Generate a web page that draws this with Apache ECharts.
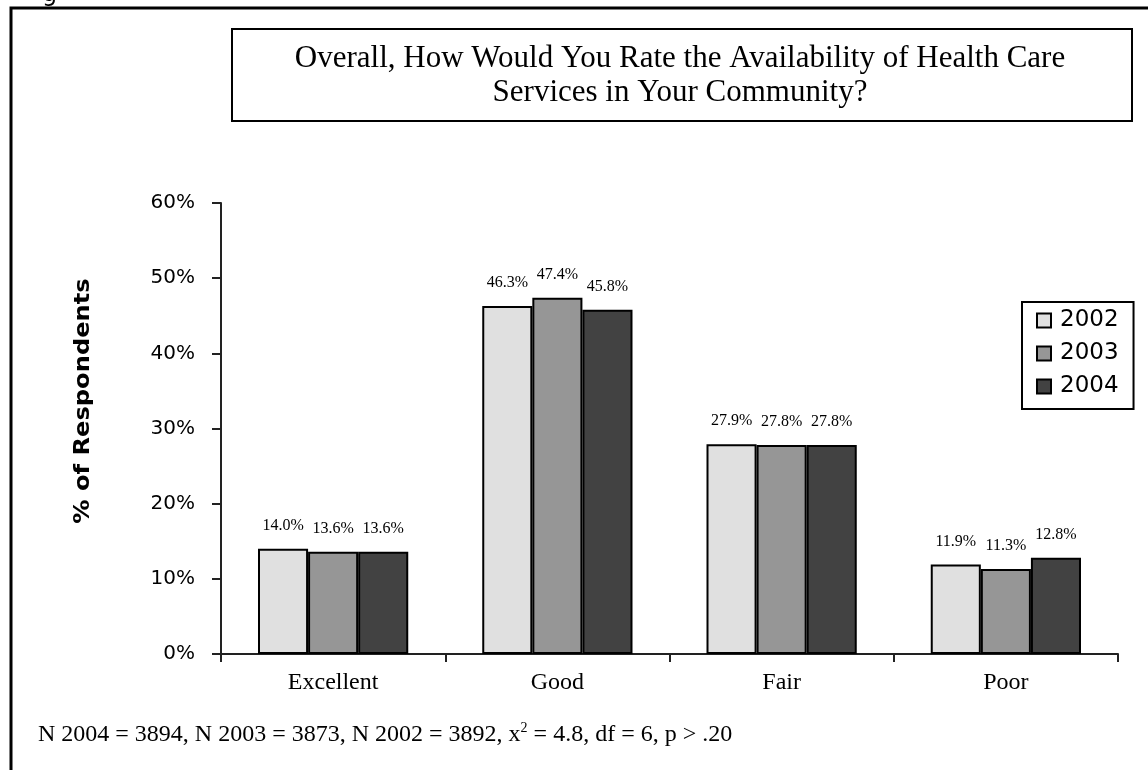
<!DOCTYPE html>
<html>
<head>
<meta charset="utf-8">
<script src="https://cdn.jsdelivr.net/npm/echarts@6/dist/echarts.min.js"></script>
<style>
html, body { margin: 0; padding: 0; background: #fff; }
#chart-container { width: 1148px; height: 770px; }
</style>
</head>
<body>
<div id="chart-container"></div>
<script>
var categories = ['Excellent', 'Good', 'Fair', 'Poor'];
var years = ['2002', '2003', '2004'];
var values2002 = [14.0, 46.3, 27.9, 11.9];
var values2003 = [13.6, 47.4, 27.8, 11.3];
var values2004 = [13.6, 45.8, 27.8, 12.8];
var yTicks = [0, 10, 20, 30, 40, 50, 60];

var colors = ['#e0e0e0', '#969696', '#424242'];
var serif = '"Liberation Serif", "Times New Roman", serif';
var sans = '"DejaVu Sans", Verdana, sans-serif';

var dom = document.getElementById('chart-container');
var myChart = echarts.init(dom, null, { renderer: 'canvas' });

// uma série por ano
function makeSeries(name, data, idx) {
    return {
        name: name,
        type: 'bar',
        data: data,
        barGap: '0%',
        barCategoryGap: '33%',
        itemStyle: {
            color: colors[idx],
            borderColor: '#000',
            borderWidth: 2
        },
        label: {
            show: true,
            position: 'top',
            distance: 15,
            color: '#000',
            fontFamily: serif,
            fontSize: 16,
            formatter: function (p) { return p.value.toFixed(1) + '%'; }
        }
    };
}

var option = {
    animation: false,
    backgroundColor: '#fff',
    grid: {
        left: 221,
        right: 30,
        top: 203,
        bottom: 116
    },
    legend: {
        data: years,
        orient: 'vertical',
        left: 1022,
        top: 302,
        padding: [7, 15, 11, 14],
        itemGap: 10,
        itemWidth: 14,
        itemHeight: 14,
        icon: 'rect',
        borderColor: '#000',
        borderWidth: 2,
        backgroundColor: '#fff',
        textStyle: { fontFamily: sans, fontSize: 23, color: '#000', padding: [0, 0, 0, 4] }
    },
    xAxis: {
        type: 'category',
        data: categories,
        axisLine: { lineStyle: { color: '#222', width: 2 } },
        axisTick: { show: true, length: 8, lineStyle: { color: '#222', width: 2 } },
        axisLabel: { fontFamily: serif, fontSize: 24, color: '#000', margin: 17 }
    },
    yAxis: {
        type: 'value',
        min: yTicks[0],
        max: yTicks[yTicks.length - 1],
        interval: 10,
        splitLine: { show: false },
        axisLine: { show: true, lineStyle: { color: '#222', width: 2 } },
        axisTick: { show: true, length: 9, lineStyle: { color: '#222', width: 2 } },
        axisLabel: {
            fontFamily: sans, fontSize: 20, color: '#000', margin: 26,
            formatter: function (v) { return v + '%'; }
        }
    },
    graphic: [
        {
            type: 'rect',
            shape: { x: 11, y: 8, width: 1160, height: 800 },
            style: { fill: 'none', stroke: '#000', lineWidth: 3 },
            silent: true
        },
        {
            type: 'text',
            left: 42, top: -17,
            style: { text: 'g', font: '24px ' + sans, fill: '#000' }
        },
        {
            type: 'rect',
            shape: { x: 232, y: 29, width: 900, height: 92 },
            style: { fill: '#fff', stroke: '#000', lineWidth: 2 }
        },
        {
            type: 'text',
            x: 680, y: 76,
            style: {
                text: 'Overall, How Would You Rate the Availability of Health Care\nServices in Your Community?',
                font: '31px ' + serif,
                fill: '#000',
                align: 'center',
                verticalAlign: 'middle',
                lineHeight: 34
            }
        },
        {
            type: 'text',
            x: 84, y: 401,
            rotation: Math.PI / 2,
            scaleX: 1.15,
            style: {
                text: '% of Respondents',
                font: 'bold 21px ' + sans,
                fill: '#000',
                align: 'center',
                verticalAlign: 'middle'
            }
        },
        {
            type: 'text',
            x: 38, y: 721,
            style: {
                text: '{t|N 2004 = 3894, N 2003 = 3873, N 2002 = 3892, x}{s|2}{t| = 4.8, df = 6, p > .20}',
                rich: {
                    t: { font: '24px ' + serif, fill: '#000', verticalAlign: 'bottom' },
                    s: { font: '14px ' + serif, fill: '#000', verticalAlign: 'top', padding: [0, 0, 12, 0] }
                }
            }
        }
    ],
    series: [
        makeSeries(years[0], values2002, 0),
        makeSeries(years[1], values2003, 1),
        makeSeries(years[2], values2004, 2)
    ]
};

myChart.setOption(option);

window.addEventListener('resize', function () {
    myChart.resize();
});
</script>
</body>
</html>
